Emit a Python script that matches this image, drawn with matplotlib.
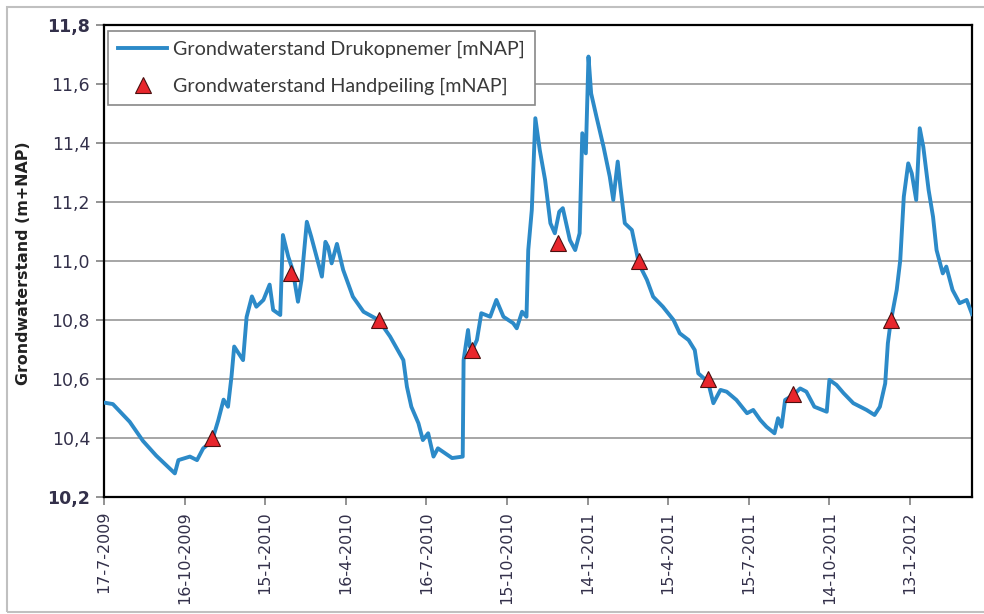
import numpy as np
import matplotlib
matplotlib.use('Agg')
import matplotlib.pyplot as plt
from matplotlib.patches import Rectangle

plt.rcParams['font.family'] = ['DejaVu Sans']

# dagen sinds 17-7-2009 en grondwaterstand (mNAP)
start = np.datetime64('2009-07-17')

dag_druk = [0, 10, 29, 44, 59, 73, 80, 84, 97, 105, 112, 122, 129, 135, 140, 144, 147,
            157, 161, 167, 172, 180, 187, 191, 199, 202, 208, 213, 219, 223, 229, 234,
            246, 250, 253, 257, 263, 270, 281, 293, 310, 323, 338, 342, 347, 355, 360,
            366, 372, 377, 393, 405, 406, 411, 413, 416, 421, 426, 436, 443, 451, 462,
            466, 472, 477, 479, 483, 487, 492, 498, 504, 509, 514, 518, 526, 532, 537,
            540, 544, 547, 550, 556, 564, 571, 575, 580, 583, 588, 596, 604, 613, 620,
            631, 643, 650, 660, 667, 671, 682, 688, 696, 703, 714, 726, 733, 741, 748,
            757, 761, 765, 769, 778, 786, 793, 802, 816, 819, 827, 835, 846, 861, 870,
            876, 882, 885, 888, 895, 899, 903, 908, 912, 917, 921, 925, 931, 936, 940,
            947, 951, 958, 966, 974, 980]
stand_druk = [10.52, 10.515, 10.455, 10.39, 10.34, 10.30, 10.28, 10.325, 10.337, 10.325,
              10.365, 10.39, 10.46, 10.53, 10.506, 10.61, 10.71, 10.664, 10.81, 10.88,
              10.845, 10.868, 10.92, 10.834, 10.817, 11.088, 11.015, 10.97, 10.862, 10.936,
              11.133, 11.082, 10.947, 11.065, 11.048, 10.992, 11.058, 10.97, 10.879, 10.828,
              10.80, 10.744, 10.664, 10.574, 10.506, 10.45, 10.393, 10.416, 10.337, 10.365,
              10.332, 10.337, 10.664, 10.766, 10.71, 10.70, 10.732, 10.823, 10.811, 10.868,
              10.811, 10.789, 10.772, 10.828, 10.811, 11.037, 11.173, 11.484, 11.376, 11.275,
              11.128, 11.094, 11.167, 11.179, 11.071, 11.037, 11.094, 11.433, 11.365, 11.693,
              11.568, 11.489, 11.387, 11.286, 11.207, 11.337, 11.252, 11.128, 11.105, 10.99,
              10.936, 10.879, 10.845, 10.80, 10.755, 10.732, 10.698, 10.619, 10.59, 10.518,
              10.563, 10.557, 10.529, 10.484, 10.495, 10.461, 10.438, 10.416, 10.467, 10.438,
              10.529, 10.545, 10.568, 10.557, 10.506, 10.489, 10.597, 10.58, 10.552, 10.518,
              10.495, 10.478, 10.506, 10.585, 10.721, 10.79, 10.902, 11.003, 11.218, 11.331,
              11.297, 11.207, 11.45, 11.387, 11.241, 11.15, 11.037, 10.958, 10.981, 10.902,
              10.857, 10.868, 10.82]

dag_hand = [122, 211, 310, 416, 513, 604, 682, 778, 888]
stand_hand = [10.40, 10.96, 10.80, 10.70, 11.06, 11.00, 10.60, 10.55, 10.80]

tick_dagen = [0, 91, 182, 273, 364, 455, 546, 637, 728, 819, 910]
eind_dag = 980

t_druk = start + np.array(dag_druk, dtype='timedelta64[D]')
t_hand = start + np.array(dag_hand, dtype='timedelta64[D]')
t_ticks = start + np.array(tick_dagen, dtype='timedelta64[D]')

tekst = '#33304a'

fig = plt.figure(figsize=(9.84, 6.14), dpi=100)
ax = fig.add_axes([104 / 984, 1 - 497 / 614, 868 / 984, 472 / 614])

fig.patches.append(Rectangle((7 / 984, 2 / 614), 1, 605 / 614, transform=fig.transFigure,
                             fill=False, edgecolor='#c0c0c0', linewidth=1.5))

ax.plot(t_druk, stand_druk, color='#2c8ac8', linewidth=2.8,
        label='Grondwaterstand Drukopnemer [mNAP]', zorder=3)
ax.plot(t_hand, stand_hand, linestyle='none', marker='^', markersize=12,
        markerfacecolor='#e8262c', markeredgecolor='#4a1010', markeredgewidth=0.8,
        label='Grondwaterstand Handpeiling [mNAP]', zorder=4)

ax.set_ylim(10.2, 11.8)
ax.set_xlim(start, start + np.timedelta64(eind_dag, 'D'))
ax.set_yticks(np.arange(10.2, 11.81, 0.2))
ax.set_yticklabels([f'{v:.1f}'.replace('.', ',') for v in np.arange(10.2, 11.81, 0.2)],
                   fontsize=12.5, color=tekst)
ax.get_yticklabels()[0].set_fontweight('bold')
ax.get_yticklabels()[-1].set_fontweight('bold')

ax.set_xticks(t_ticks)
labels = []
for t in t_ticks.astype('datetime64[D]').astype(object):
    labels.append(f'{t.day}-{t.month}-{t.year}')
ax.set_xticklabels(labels, rotation=90, fontsize=11.5, color=tekst)

ax.grid(axis='y', color='#a6a6a6', linewidth=1.4)
ax.set_axisbelow(True)
for s in ax.spines.values():
    s.set_color('black')
    s.set_linewidth(1.6)
ax.tick_params(axis='both', direction='out', length=6, width=1.2, color='#808080', pad=4)

ax.set_ylabel('Grondwaterstand (m+NAP)', fontsize=11.4, fontweight='bold', color='#222222')
ax.yaxis.set_label_coords(-0.084, 0.495)

leg = ax.legend(loc='upper left', bbox_to_anchor=(0.0046, 0.987), borderaxespad=0,
                fancybox=False, framealpha=1, edgecolor='#888888', handlelength=2.5,
                labelspacing=1.0, borderpad=0.5, handletextpad=0.3,
                prop={'family': 'Lato', 'size': 14.2})
leg.get_frame().set_linewidth(1.2)
for txt in leg.get_texts():
    txt.set_color('#3a3a3a')

plt.savefig('out.png', dpi=100)
